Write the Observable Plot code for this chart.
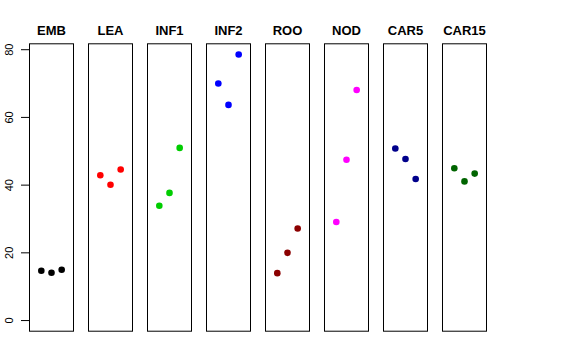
<!DOCTYPE html>
<html><head><meta charset="utf-8">
<script src="https://cdn.jsdelivr.net/npm/d3@7"></script>
<script src="https://cdn.jsdelivr.net/npm/@observablehq/plot@0.6"></script>
<style>body{margin:0;background:#fff}</style>
</head><body><div id="chart"></div>
<script>
const categories = ["EMB","LEA","INF1","INF2","ROO","NOD","CAR5","CAR15"];
const replicate = [1, 2, 3];
const EMB   = [14.7, 14.1, 15.0];
const LEA   = [42.9, 40.1, 44.6];
const INF1  = [33.9, 37.7, 51.0];
const INF2  = [70.0, 63.7, 78.6];
const ROO   = [14.0, 20.0, 27.2];
const NOD   = [29.1, 47.5, 68.1];
const CAR5  = [50.8, 47.7, 41.8];
const CAR15 = [45.0, 41.1, 43.4];
const yTicks = [0, 20, 40, 60, 80];

const series = [EMB, LEA, INF1, INF2, ROO, NOD, CAR5, CAR15];
const palette = ["black","red","#00CD00","blue","#8B0000","magenta","#00008B","#006400"];
const data = categories.flatMap((c, i) => series[i].map((v, j) => ({panel: c, rep: replicate[j], value: v})));
const yMax = d3.max(data, d => d.value);
const pad = 0.04 * yMax;

const chart = Plot.plot({
  width: 576, height: 360,
  marginLeft: 28.7, marginRight: 88.3, marginTop: 43.3, marginBottom: 29.3,
  fx: {domain: categories, paddingInner: 0.246, paddingOuter: 0, label: null},
  x: {domain: [-0.16, 4.16], axis: null},
  y: {domain: [-pad, yMax + pad]},
  color: {domain: categories, range: palette},
  style: {fontFamily: "'Liberation Sans', Arial, sans-serif", fontSize: "11px", color: "black", background: "white"},
  marks: [
    Plot.frame({stroke: "black"}),
    Plot.dot(data, {fx: "panel", x: "rep", y: "value", fill: "panel", r: 3.3}),
    Plot.axisFx({anchor: "top", tickSize: 0, tickPadding: 9, fontWeight: "bold", fontSize: 13, label: null}),
    Plot.axisY(yTicks, {anchor: "left", tickSize: 8, text: null, label: null, stroke: "black", strokeWidth: 1}),
    Plot.axisY(yTicks, {anchor: "left", tickSize: 0, tickPadding: 20, rotate: -90, textAnchor: "middle", fontSize: 11, label: null})
  ]
});
document.getElementById("chart").append(chart);
</script>
</body></html>
